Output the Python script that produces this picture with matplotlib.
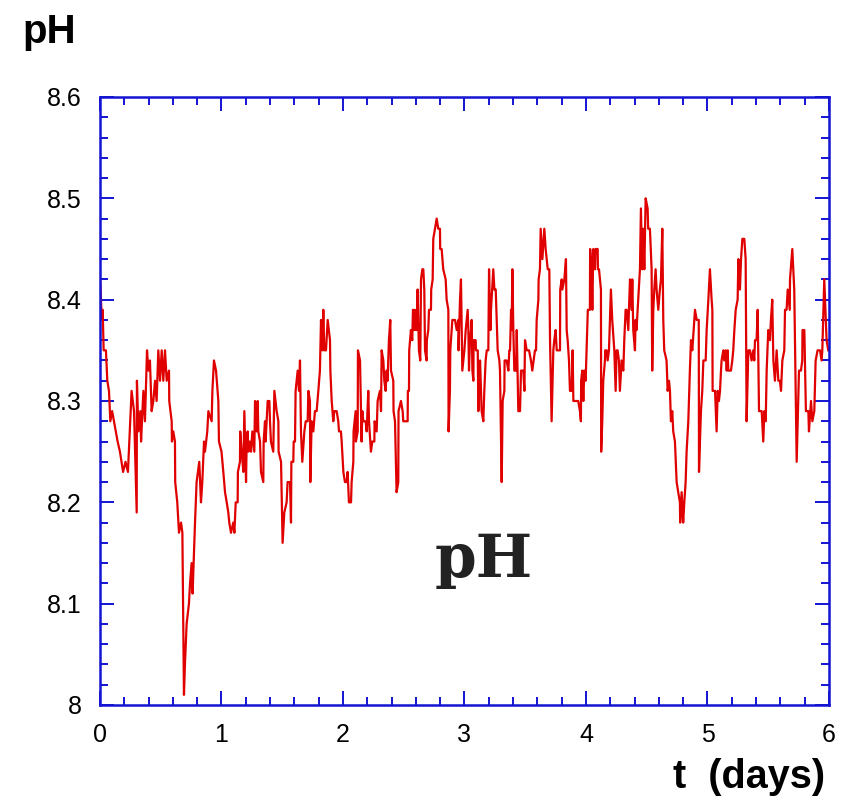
import numpy as np
import matplotlib
matplotlib.use("Agg")
import matplotlib.pyplot as plt
from matplotlib.ticker import MultipleLocator

# time (days) and pH readings
t_days = [
    0.000, 0.005, 0.014, 0.022, 0.030, 0.049, 0.060, 0.074, 0.085, 0.100,
    0.115, 0.130, 0.145, 0.164, 0.190, 0.210, 0.230, 0.260, 0.280, 0.302,
    0.304, 0.316, 0.332, 0.338, 0.357, 0.370, 0.387, 0.398, 0.411, 0.425,
    0.439, 0.453, 0.466, 0.480, 0.494, 0.508, 0.521, 0.535, 0.549, 0.568,
    0.570, 0.590, 0.592, 0.603, 0.617, 0.619, 0.636, 0.650, 0.667, 0.678,
    0.691, 0.699, 0.713, 0.732, 0.741, 0.754, 0.762, 0.776, 0.782, 0.795,
    0.817, 0.831, 0.842, 0.856, 0.864, 0.883, 0.892, 0.919, 0.925, 0.938,
    0.955, 0.974, 0.979, 1.000, 1.015, 1.029,
    1.043, 1.056, 1.064, 1.078, 1.097, 1.106, 1.117, 1.133, 1.135, 1.152,
    1.154, 1.166, 1.180, 1.188, 1.202, 1.207, 1.215, 1.221, 1.234, 1.243,
    1.254, 1.270, 1.276, 1.289, 1.298, 1.303, 1.317, 1.325, 1.344, 1.347,
    1.358, 1.363, 1.380, 1.394, 1.399, 1.407, 1.426, 1.435, 1.454, 1.468,
    1.470, 1.490, 1.503, 1.517, 1.536, 1.544, 1.564, 1.572, 1.575, 1.591,
    1.594, 1.605, 1.610, 1.627, 1.638, 1.646, 1.654, 1.665, 1.682, 1.693,
    1.709, 1.715, 1.728, 1.731, 1.742, 1.756, 1.769, 1.783, 1.797, 1.810,
    1.819, 1.830, 1.838, 1.846, 1.860, 1.874, 1.893, 1.896, 1.907, 1.920,
    1.929, 1.948, 1.961, 1.967, 1.983, 1.989, 2.003, 2.016,
    2.030, 2.038, 2.049, 2.066, 2.071, 2.085, 2.087, 2.104, 2.106, 2.121,
    2.123, 2.140, 2.153, 2.159, 2.167, 2.186, 2.195, 2.208, 2.214, 2.230,
    2.241, 2.258, 2.260, 2.277, 2.285, 2.304, 2.313, 2.318, 2.332, 2.340,
    2.351, 2.359, 2.367, 2.378, 2.389, 2.395, 2.414, 2.416, 2.428, 2.441,
    2.455, 2.457, 2.477, 2.491, 2.496, 2.532, 2.534, 2.543, 2.545, 2.559,
    2.570, 2.576, 2.587, 2.592, 2.601, 2.606, 2.614, 2.625, 2.636, 2.642,
    2.653, 2.661, 2.669, 2.675, 2.688, 2.690, 2.702, 2.708, 2.724, 2.726,
    2.738, 2.743, 2.757, 2.771, 2.784, 2.798, 2.800, 2.812, 2.825, 2.845,
    2.853, 2.867, 2.869, 2.880, 2.883, 2.894, 2.900, 2.916,
    2.922, 2.936, 2.949, 2.951, 2.963, 2.971, 2.982, 2.999, 3.010, 3.026,
    3.032, 3.037, 3.045, 3.054, 3.059, 3.065, 3.073, 3.075, 3.092, 3.094,
    3.109, 3.114, 3.120, 3.128, 3.136, 3.141, 3.155, 3.163, 3.174, 3.183,
    3.196, 3.202, 3.213, 3.218, 3.237, 3.246, 3.257, 3.265, 3.273, 3.287,
    3.292, 3.306, 3.314, 3.328, 3.330, 3.347, 3.361, 3.369, 3.375, 3.383,
    3.388, 3.394, 3.402, 3.410, 3.424, 3.430, 3.443, 3.457, 3.465, 3.484,
    3.493, 3.498, 3.512, 3.531, 3.547, 3.558, 3.569, 3.580, 3.589, 3.594,
    3.608, 3.610, 3.621, 3.627, 3.641, 3.657, 3.668, 3.685, 3.698, 3.704,
    3.717, 3.731, 3.739, 3.750, 3.759, 3.772, 3.786, 3.788, 3.800, 3.805,
    3.822, 3.835, 3.841, 3.849, 3.860, 3.868, 3.882, 3.890, 3.896, 3.909,
    3.923, 3.936, 3.950, 3.958, 3.960, 3.969, 3.978, 3.986, 3.997, 4.005,
    4.013, 4.015, 4.032, 4.034, 4.046, 4.052, 4.060, 4.074, 4.079, 4.096,
    4.098, 4.107, 4.123, 4.125, 4.134, 4.142, 4.156, 4.158, 4.170, 4.178,
    4.189, 4.197, 4.205, 4.216, 4.233, 4.244, 4.252, 4.260, 4.271, 4.279,
    4.293, 4.307, 4.315, 4.326, 4.334, 4.348, 4.362, 4.375, 4.381, 4.389,
    4.403, 4.408, 4.416, 4.425, 4.444, 4.452, 4.463, 4.471, 4.480, 4.491,
    4.507, 4.512, 4.526, 4.540, 4.545, 4.554, 4.562, 4.573, 4.581, 4.595,
    4.608, 4.617, 4.628, 4.636, 4.644, 4.663, 4.672, 4.683, 4.691, 4.699,
    4.710, 4.718, 4.732, 4.746, 4.759, 4.773, 4.775, 4.787, 4.800, 4.809,
    4.820, 4.828, 4.842, 4.855, 4.864, 4.875, 4.891,
    4.897, 4.911, 4.928, 4.930, 4.946, 4.957, 4.966, 4.985, 4.993, 5.007,
    5.020, 5.034, 5.040, 5.042, 5.062, 5.075, 5.084, 5.094, 5.103, 5.111,
    5.116, 5.130, 5.138, 5.149, 5.158, 5.166, 5.171, 5.193, 5.204, 5.212,
    5.221, 5.232, 5.248, 5.254, 5.267, 5.276, 5.287, 5.303, 5.314, 5.322,
    5.336, 5.350, 5.363, 5.377, 5.385, 5.391, 5.404, 5.413, 5.424, 5.446,
    5.459, 5.468, 5.479, 5.487, 5.500, 5.514, 5.522, 5.533, 5.542, 5.555,
    5.569, 5.583, 5.596, 5.605, 5.616, 5.632, 5.638, 5.651, 5.660, 5.677,
    5.679, 5.698, 5.714, 5.734, 5.753, 5.769, 5.780, 5.782, 5.797, 5.810,
    5.830, 5.835, 5.852, 5.863, 5.879, 5.890, 5.906, 5.926, 5.939, 5.945,
    5.961, 5.980, 5.994,
]

ph = [
    8.42, 8.41, 8.38, 8.39, 8.35, 8.35, 8.32, 8.31, 8.28, 8.29,
    8.28, 8.27, 8.26, 8.25, 8.23, 8.24, 8.23, 8.31, 8.29, 8.19,
    8.32, 8.27, 8.29, 8.26, 8.31, 8.28, 8.35, 8.33, 8.34, 8.29,
    8.30, 8.32, 8.30, 8.35, 8.32, 8.35, 8.32, 8.35, 8.32, 8.33,
    8.30, 8.28, 8.26, 8.27, 8.26, 8.22, 8.20, 8.17, 8.18, 8.17,
    8.01, 8.04, 8.08, 8.10, 8.12, 8.14, 8.11, 8.16, 8.18, 8.22,
    8.24, 8.20, 8.22, 8.26, 8.25, 8.27, 8.29, 8.28, 8.31, 8.34,
    8.33, 8.30, 8.26, 8.25, 8.23, 8.21,
    8.20, 8.19, 8.18, 8.17, 8.18, 8.17, 8.20, 8.20, 8.23, 8.24,
    8.27, 8.25, 8.23, 8.29, 8.22, 8.26, 8.27, 8.25, 8.26, 8.25,
    8.27, 8.25, 8.30, 8.27, 8.30, 8.27, 8.26, 8.23, 8.22, 8.26,
    8.28, 8.26, 8.30, 8.30, 8.28, 8.26, 8.25, 8.31, 8.29, 8.28,
    8.25, 8.24, 8.16, 8.19, 8.20, 8.22, 8.22, 8.18, 8.24, 8.24,
    8.26, 8.26, 8.31, 8.33, 8.31, 8.34, 8.27, 8.24, 8.27, 8.28,
    8.28, 8.31, 8.30, 8.22, 8.28, 8.27, 8.29, 8.29, 8.31, 8.33,
    8.38, 8.35, 8.39, 8.35, 8.35, 8.38, 8.36, 8.33, 8.30, 8.28,
    8.29, 8.29, 8.28, 8.27, 8.27, 8.26, 8.23, 8.22,
    8.22, 8.23, 8.20, 8.20, 8.22, 8.24, 8.27, 8.29, 8.26, 8.27,
    8.35, 8.34, 8.26, 8.29, 8.28, 8.28, 8.27, 8.31, 8.28, 8.25,
    8.26, 8.26, 8.28, 8.27, 8.30, 8.31, 8.29, 8.35, 8.34, 8.32,
    8.31, 8.33, 8.32, 8.36, 8.38, 8.33, 8.32, 8.29, 8.28, 8.21,
    8.22, 8.29, 8.30, 8.29, 8.28, 8.28, 8.31, 8.31, 8.35, 8.37,
    8.36, 8.39, 8.37, 8.39, 8.37, 8.37, 8.41, 8.35, 8.34, 8.42,
    8.43, 8.43, 8.41, 8.35, 8.34, 8.36, 8.37, 8.39, 8.39, 8.41,
    8.42, 8.46, 8.47, 8.48, 8.47, 8.47, 8.45, 8.45, 8.43, 8.42,
    8.40, 8.39, 8.27, 8.31, 8.35, 8.37, 8.38, 8.38,
    8.38, 8.37, 8.38, 8.35, 8.40, 8.42, 8.33, 8.35, 8.37, 8.39,
    8.37, 8.33, 8.36, 8.37, 8.38, 8.33, 8.32, 8.36, 8.36, 8.35,
    8.35, 8.29, 8.32, 8.34, 8.31, 8.29, 8.28, 8.31, 8.34, 8.35,
    8.35, 8.43, 8.37, 8.39, 8.43, 8.41, 8.41, 8.38, 8.35, 8.34,
    8.33, 8.22, 8.30, 8.31, 8.34, 8.34, 8.33, 8.35, 8.35, 8.39,
    8.37, 8.43, 8.37, 8.33, 8.33, 8.37, 8.29, 8.29, 8.33, 8.33,
    8.31, 8.36, 8.35, 8.35, 8.34, 8.33, 8.34, 8.35, 8.35, 8.38,
    8.40, 8.42, 8.43, 8.47, 8.44, 8.47, 8.45, 8.43, 8.43, 8.36,
    8.28, 8.35, 8.36, 8.37, 8.35, 8.35, 8.35, 8.41, 8.42, 8.41,
    8.42, 8.44, 8.37, 8.36, 8.34, 8.31, 8.31, 8.35, 8.30, 8.30,
    8.30, 8.30, 8.29, 8.28, 8.32, 8.33, 8.30, 8.33, 8.32, 8.35,
    8.38, 8.39, 8.39, 8.45, 8.43, 8.39, 8.45, 8.43, 8.45, 8.45,
    8.43, 8.43, 8.41, 8.25, 8.28, 8.32, 8.34, 8.35, 8.35, 8.34,
    8.35, 8.38, 8.41, 8.38, 8.35, 8.31, 8.35, 8.35, 8.34, 8.31,
    8.34, 8.33, 8.36, 8.39, 8.39, 8.37, 8.42, 8.39, 8.42, 8.37,
    8.35, 8.38, 8.37, 8.39, 8.43, 8.49, 8.43, 8.47, 8.43, 8.50,
    8.49, 8.47, 8.47, 8.43, 8.33, 8.39, 8.41, 8.43, 8.41, 8.39,
    8.41, 8.42, 8.47, 8.38, 8.35, 8.34, 8.31, 8.32, 8.31, 8.28,
    8.29, 8.27, 8.26, 8.22, 8.21, 8.20, 8.18, 8.21, 8.18, 8.20,
    8.22, 8.25, 8.28, 8.33, 8.36, 8.35, 8.38,
    8.39, 8.38, 8.38, 8.23, 8.29, 8.31, 8.34, 8.34, 8.37, 8.40,
    8.43, 8.40, 8.39, 8.31, 8.31, 8.27, 8.31, 8.30, 8.31, 8.33,
    8.34, 8.35, 8.34, 8.35, 8.33, 8.35, 8.33, 8.33, 8.34, 8.35,
    8.37, 8.39, 8.40, 8.44, 8.41, 8.44, 8.46, 8.46, 8.44, 8.28,
    8.35, 8.35, 8.34, 8.35, 8.34, 8.36, 8.36, 8.39, 8.29, 8.29,
    8.26, 8.29, 8.28, 8.33, 8.37, 8.36, 8.38, 8.40, 8.34, 8.32,
    8.35, 8.32, 8.32, 8.31, 8.34, 8.35, 8.39, 8.39, 8.41, 8.39,
    8.42, 8.45, 8.41, 8.24, 8.33, 8.33, 8.34, 8.37, 8.37, 8.29,
    8.29, 8.27, 8.30, 8.28, 8.29, 8.34, 8.35, 8.35, 8.34, 8.35,
    8.42, 8.36, 8.35,
]

x_ticks = [0, 1, 2, 3, 4, 5, 6]
y_ticks = [8.0, 8.1, 8.2, 8.3, 8.4, 8.5, 8.6]
y_ticklabels = ["8", "8.1", "8.2", "8.3", "8.4", "8.5", "8.6"]

blue = "#1414d2"
plt.rcParams["font.family"] = ["Liberation Sans", "DejaVu Sans"]

fig = plt.figure(figsize=(8.45, 8.02), dpi=100)
ax = fig.add_axes([100 / 845, 1 - 705 / 802, 729 / 845, 608 / 802])

ax.plot(t_days, ph, color="#e00000", lw=1.6)

ax.set_xlim(0, 6)
ax.set_ylim(8.0, 8.6)
ax.set_xticks(x_ticks)
ax.set_yticks(y_ticks)
ax.set_yticklabels(y_ticklabels)
ax.xaxis.set_minor_locator(MultipleLocator(0.2))
ax.yaxis.set_minor_locator(MultipleLocator(0.02))

for s in ax.spines.values():
    s.set_color(blue)
    s.set_linewidth(1.8)
ax.tick_params(which="both", direction="in", top=True, right=True,
               color=blue, width=1.4, labelsize=18, labelcolor="black")
ax.tick_params(which="major", length=10, pad=13)
ax.tick_params(which="minor", length=6)

fig.text(22 / 845, 1 - 43 / 802, "pH", fontsize=29, fontweight="bold",
         va="baseline", ha="left")
fig.text(825 / 845, 1 - 788 / 802, "t  (days)", fontsize=28.5,
         fontweight="bold", va="baseline", ha="right")
ax.text(3.156, 8.126, "pH", family="DejaVu Serif", fontweight="bold",
        fontsize=43, color="#222222", ha="center", va="baseline")

fig.savefig("out.png", dpi=100)
